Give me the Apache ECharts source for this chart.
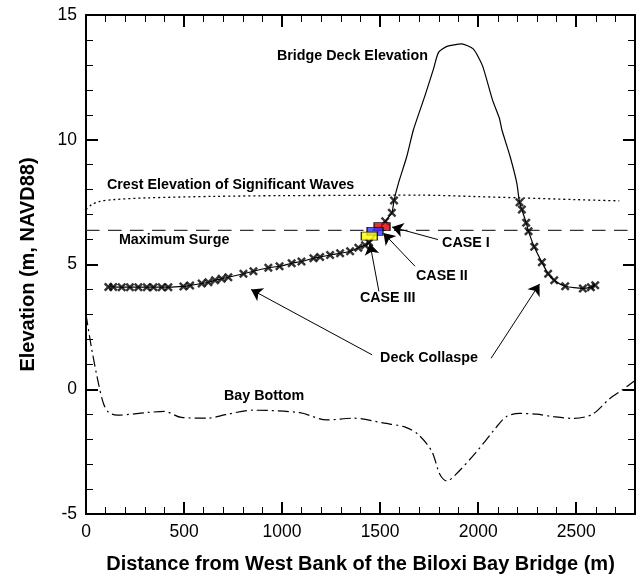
<!DOCTYPE html>
<html>
<head>
<meta charset="utf-8">
<script src="https://cdn.jsdelivr.net/npm/echarts@6/dist/echarts.min.js"></script>
<style>html,body{margin:0;padding:0;background:#fff}#c{width:642px;height:579px}</style>
</head>
<body>
<div id="c"></div>
<script>
// ---- data (distance m, elevation m NAVD88) ----
var collapsedWest = [[114,4.10],[139,4.10],[182,4.09],[224,4.09],[267,4.09],[310,4.09],[344,4.09],[386,4.09],[420,4.09],[497,4.12],[531,4.16],[590,4.24],[624,4.29],[658,4.37],[692,4.43],[726,4.49],[803,4.63],[854,4.73],[930,4.87],[987,4.93],[1049,5.05],[1099,5.12],[1160,5.25],[1194,5.30],[1245,5.38],[1296,5.45],[1347,5.53],[1389,5.67],[1423,5.77],[1444,5.88],[1526,6.73],[1560,7.07],[1571,7.57]];
var deckCrest = [[1594,8.27],[1636,9.33],[1670,10.4],[1728,11.75],[1772,12.83],[1798,13.5],[1841,13.74],[1915,13.84],[1975,13.64],[2022,12.97],[2073,11.6],[2108,10.87],[2121,10.4],[2163,9.33],[2197,8.27]];
var collapsedEast = [[2211,7.49],[2223,7.2],[2245,6.67],[2257,6.33],[2286,5.71],[2325,5.09],[2357,4.63],[2388,4.37],[2444,4.13],[2534,4.04],[2575,4.09],[2597,4.17]];
var waveCrest = [[0,7.2],[29,7.4],[71,7.53],[139,7.6],[310,7.67],[650,7.73],[990,7.76],[1400,7.77],[1704,7.78],[2000,7.72],[2214,7.67],[2500,7.6],[2720,7.55]];
var maxSurge = [[0,6.37],[2800,6.37]];
var bayBottom = [[0,3.0],[30,1.57],[64,0.22],[90,-0.59],[116,-0.93],[159,-1.04],[314,-0.93],[400,-0.89],[487,-1.13],[625,-1.16],[711,-1.02],[849,-0.84],[1090,-0.94],[1228,-1.23],[1366,-1.16],[1522,-1.36],[1625,-1.51],[1694,-1.81],[1763,-2.48],[1806,-3.43],[1841,-3.68],[1884,-3.43],[1987,-2.55],[2091,-1.54],[2143,-1.1],[2212,-0.97],[2298,-1.0],[2384,-1.1],[2488,-1.17],[2583,-1.0],[2669,-0.39],[2740,0.0],[2800,0.35]];
var caseNames = ['CASE I','CASE II','CASE III'];
var casePoints = [[1510,6.52],[1474,6.33],[1445,6.14]];
var caseColors = ['#d40000','#3333ff','#ffff00'];
var xTicks = [0,500,1000,1500,2000,2500];
var yTicks = [-5,0,5,10,15];
// annotations: [text, x, y(center)]
var labels = [
  ['Bridge Deck Elevation',974,13.36],
  ['Crest Elevation of Significant Waves',107,8.18],
  ['Maximum Surge',168,5.96],
  ['CASE I',1816,5.84],
  ['CASE II',1683,4.54],
  ['CASE III',1397,3.64],
  ['Deck Collaspe',1500,1.24],
  ['Bay Bottom',704,-0.28]
];
// arrows: [from, to]
var arrows = [
  [[1795,6.0],[1561,6.5]],
  [[1678,4.93],[1517,6.26]],
  [[1494,3.92],[1448,5.84]],
  [[1459,1.38],[842,4.0]],
  [[2066,1.24],[2313,4.22]]
];

var chart = echarts.init(document.getElementById('c'), null, {renderer:'canvas'});
var FONT = '"Liberation Sans", Arial, sans-serif';
function axisCommon(showLabel){
  return {
    axisLine:{show:true,onZero:false,lineStyle:{color:'#000',width:2}},
    axisTick:{show:true,inside:true,length:12,lineStyle:{color:'#000',width:2}},
    minorTick:{show:true,splitNumber:5,length:7,lineStyle:{color:'#000',width:1}},
    splitLine:{show:false},
    axisLabel:{show:showLabel,color:'#000',fontFamily:FONT,fontSize:17.5,margin:9}
  };
}
var xb = axisCommon(true), xt = axisCommon(false), yl = axisCommon(true), yr = axisCommon(false);
var XMARK = 'path://M0,1.9L1.9,0L5,3.1L8.1,0L10,1.9L6.9,5L10,8.1L8.1,10L5,6.9L1.9,10L0,8.1L3.1,5Z';
var option = {
  animation:false,
  backgroundColor:'#fff',
  grid:{left:86,right:7,top:15,bottom:64,containLabel:false},
  xAxis:[
    Object.assign({type:'value',position:'bottom',min:0,max:2800,interval:500,
      name:'Distance from West Bank of the Biloxi Bay Bridge (m)',nameLocation:'middle',nameGap:40,
      nameTextStyle:{fontFamily:FONT,fontWeight:'bold',fontSize:20,color:'#000'}}, xb,
      {axisLabel:Object.assign({},xb.axisLabel,{formatter:function(v){return xTicks.indexOf(v)>=0?String(v):'';}})}),
    Object.assign({type:'value',position:'top',min:0,max:2800,interval:500}, xt)
  ],
  yAxis:[
    Object.assign({type:'value',position:'left',min:-5,max:15,interval:5,
      name:'Elevation (m, NAVD88)',nameLocation:'middle',nameGap:48,nameRotate:90,
      nameTextStyle:{fontFamily:FONT,fontWeight:'bold',fontSize:20,color:'#000'}}, yl,
      {axisLabel:Object.assign({},yl.axisLabel,{formatter:function(v){return yTicks.indexOf(v)>=0?String(v):'';}})}),
    Object.assign({type:'value',position:'right',min:-5,max:15,interval:5}, yr)
  ],
  series:[
    {type:'line',data:bayBottom,showSymbol:false,smooth:0.3,lineStyle:{color:'#000',width:1.2,type:[11,4,2,4]},z:2},
    {type:'line',data:waveCrest,showSymbol:false,smooth:0.3,lineStyle:{color:'#000',width:1.3,type:[2,3]},z:2},
    {type:'line',data:maxSurge,showSymbol:false,lineStyle:{color:'#333',width:1.2,type:[13.5,8.5]},z:2},
    {type:'line',data:collapsedWest.concat(deckCrest,collapsedEast),showSymbol:false,smooth:0.2,lineStyle:{color:'#000',width:1.2},z:3},
    {type:'scatter',data:collapsedWest.concat(collapsedEast),symbol:XMARK,symbolSize:9,
      itemStyle:{color:'#000'},z:4},
    {type:'lines',coordinateSystem:'cartesian2d',polyline:false,
      data:arrows.map(function(a){return {coords:a};}),
      symbol:['none','arrow'],symbolSize:[7,11],
      lineStyle:{color:'#000',width:1,opacity:1},z:5},
    {type:'scatter',symbol:'rect',symbolSize:[16,8],z:6,
      data:casePoints.map(function(p,i){return {name:caseNames[i],value:p,itemStyle:{color:caseColors[i],borderColor:'#000',borderWidth:1}};})}
  ]
};
chart.setOption(option);
var g = labels.map(function(l){
  var p = chart.convertToPixel({xAxisIndex:0,yAxisIndex:0},[l[1],l[2]]);
  return {type:'text',x:p[0],y:p[1],z:10,style:{text:l[0],fill:'#000',fontFamily:FONT,fontWeight:'bold',fontSize:14.3,textVerticalAlign:'middle',verticalAlign:'middle',align:'left'}};
});
chart.setOption({graphic:g});
</script>
</body>
</html>
